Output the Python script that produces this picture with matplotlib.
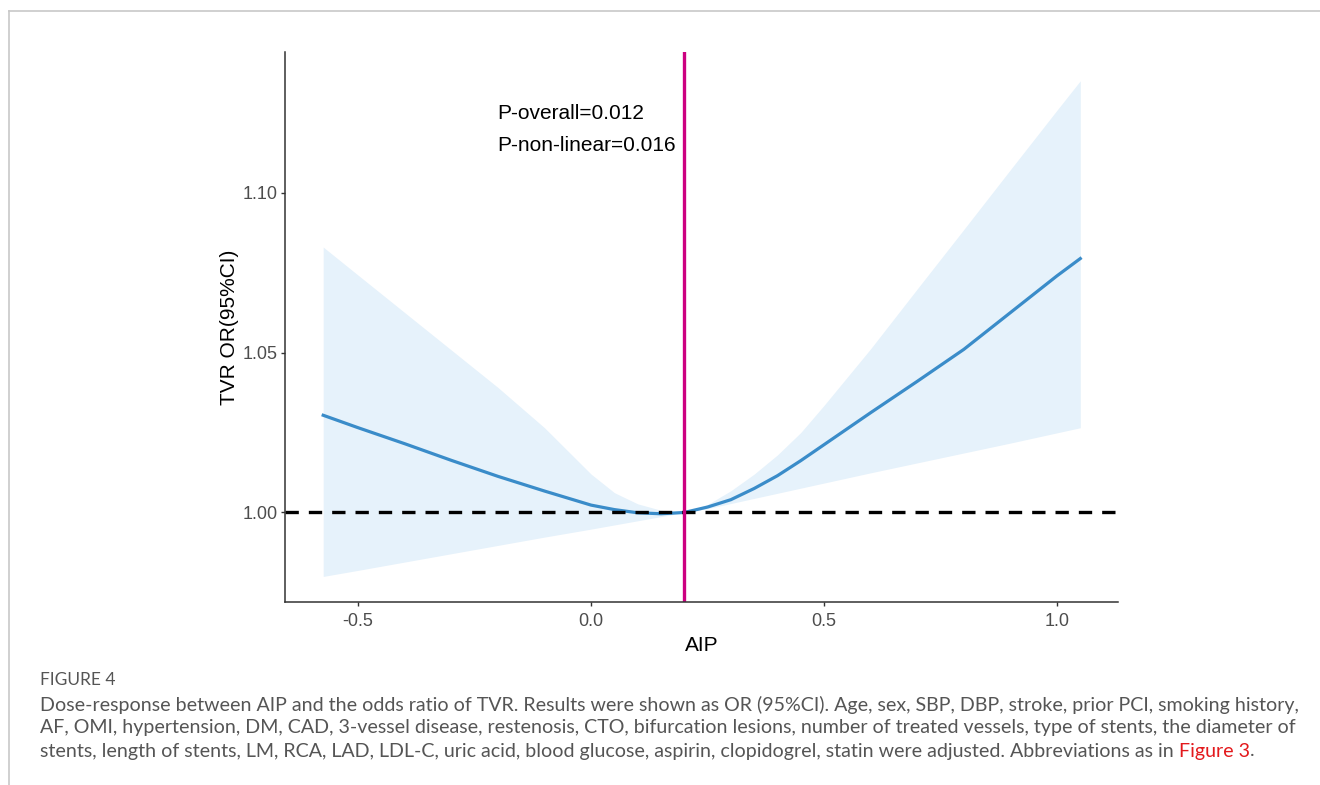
import matplotlib.pyplot as plt
from matplotlib.lines import Line2D

# AIP values and fitted OR with 95% CI
aip = [-0.575, -0.5, -0.4, -0.3, -0.2, -0.1, 0.0, 0.05, 0.1, 0.15, 0.2,
       0.25, 0.3, 0.35, 0.4, 0.45, 0.5, 0.6, 0.7, 0.8, 0.9, 1.0, 1.05]
odds = [1.0304, 1.0265, 1.0215, 1.0163, 1.0113, 1.0067, 1.0023, 1.0009, 0.9999, 0.9996, 1.0,
        1.0017, 1.0040, 1.0075, 1.0115, 1.0162, 1.0212, 1.0312, 1.0410, 1.0510, 1.0625, 1.0740, 1.0794]
upper = [1.083, 1.0742, 1.0625, 1.0508, 1.0391, 1.0265, 1.0120, 1.0062, 1.0027, 1.0007, 1.0,
         1.0025, 1.0068, 1.0120, 1.0180, 1.0250, 1.0335, 1.0512, 1.0699, 1.0885, 1.1072, 1.1258, 1.135]
lower = [0.980, 0.9819, 0.9845, 0.9871, 0.9897, 0.9923, 0.9948, 0.9961, 0.9974, 0.9987, 1.0,
         1.0012, 1.0028, 1.0044, 1.0060, 1.0076, 1.0092, 1.0124, 1.0155, 1.0186, 1.0217, 1.0249, 1.0265]
ref_aip = 0.2
p_text = ['P-overall=0.012', 'P-non-linear=0.016']
xticks = [-0.5, 0.0, 0.5, 1.0]
yticks = [1.00, 1.05, 1.10]

caption_head = 'FIGURE 4'
caption_lines = [
    'Dose-response between AIP and the odds ratio of TVR. Results were shown as OR (95%CI). Age, sex, SBP, DBP, stroke, prior PCI, smoking history,',
    'AF, OMI, hypertension, DM, CAD, 3-vessel disease, restenosis, CTO, bifurcation lesions, number of treated vessels, type of stents, the diameter of',
    'stents, length of stents, LM, RCA, LAD, LDL-C, uric acid, blood glucose, aspirin, clopidogrel, statin were adjusted. Abbreviations as in ',
]
caption_link = 'Figure 3'

fig = plt.figure(figsize=(13.2, 7.85), dpi=100)
ax = fig.add_axes([0.2159, 0.2331, 0.6311, 0.7007])

ax.fill_between(aip, lower, upper, color='#e6f2fb', lw=0)
ax.plot(aip, odds, color='#3a8cc9', lw=2.3)
ax.axhline(1.0, color='black', ls=(0, (4, 3)), lw=2.4)
ax.axvline(ref_aip, color='#cc0080', lw=2.4)

ax.set_xlim(-0.657, 1.131)
ax.set_ylim(0.972, 1.144)
ax.set_xticks(xticks)
ax.set_xticklabels(['%.1f' % t for t in xticks])
ax.set_yticks(yticks)
ax.set_yticklabels(['%.2f' % t for t in yticks])

for s in ['top', 'right']:
    ax.spines[s].set_visible(False)
for s in ['left', 'bottom']:
    ax.spines[s].set_color('#333333')
    ax.spines[s].set_linewidth(1.1)
ax.tick_params(length=3, width=1.0, color='#333333', labelcolor='#4d4d4d',
               labelsize=13, pad=2)
ax.tick_params(axis='x', pad=5)
for lab in ax.get_xticklabels() + ax.get_yticklabels():
    lab.set_family('Liberation Sans')

ax.set_xlabel('AIP', family='Liberation Sans', fontsize=15, labelpad=4)
ax.set_ylabel('TVR OR(95%CI)', family='Liberation Sans', fontsize=15, labelpad=3)

ax.text(-0.2017, 1.1247, p_text[0], family='Liberation Sans', fontsize=15, va='center')
ax.text(-0.2017, 1.1147, p_text[1], family='Liberation Sans', fontsize=15, va='center')

# page border
fig.add_artist(Line2D([9/1320, 1], [1 - 11/785] * 2, color='#c8c8c8', lw=1.2))
fig.add_artist(Line2D([9/1320] * 2, [1 - 11/785, 0], color='#c8c8c8', lw=1.2))

# caption
fig.text(40/1320, 1 - 680/785, caption_head, family='Lato', fontsize=12.5,
         color='#555555', va='center')
ys = [705, 728, 751]
for line, y in zip(caption_lines, ys):
    t = fig.text(40/1320, 1 - y/785, line, family='Lato', fontsize=14.1,
                 color='#555555', va='center')
fig.canvas.draw()
bb = t.get_window_extent()
t2 = fig.text(bb.x1 / fig.bbox.width, 1 - ys[-1]/785, caption_link, family='Lato',
              fontsize=14.1, color='#e3191c', va='center')
fig.canvas.draw()
bb2 = t2.get_window_extent()
fig.text(bb2.x1 / fig.bbox.width, 1 - ys[-1]/785, '.', family='Lato', fontsize=14.1,
         color='#555555', va='center')

fig.savefig('out.png', dpi=100)
